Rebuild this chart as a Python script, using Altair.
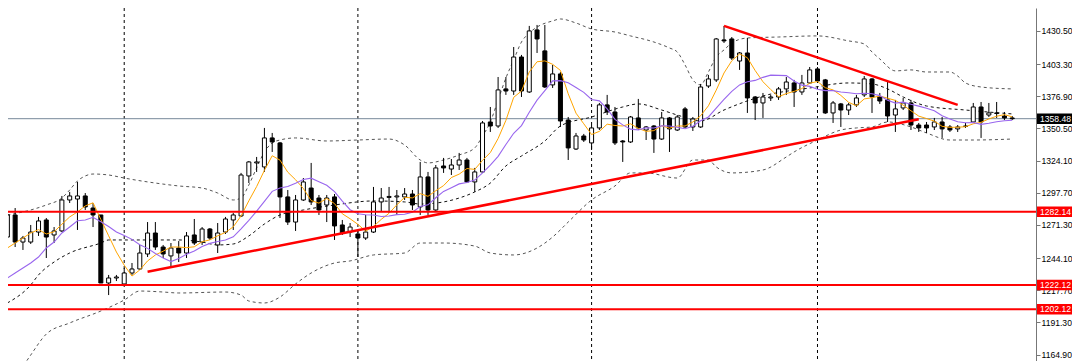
import altair as alt
import pandas as pd

# ---------------- data ----------------
idx = list(range(130))

opens = [
1261.4, 1279.5, 1257.3, 1257.3, 1265.5, 1275.4, 1263.1, 1266.4, 1291.8, 1292.6,
1295.1, 1285.2, 1279.5, 1223.7, 1227.8, 1222.9, 1231.9, 1235.2, 1247.5, 1264.7,
1253.2, 1245.9, 1252.4, 1248.3, 1263.1, 1257.3, 1268.0, 1254.9, 1265.5, 1275.4,
1278.7, 1311.5, 1322.2, 1318.9, 1342.7, 1338.6, 1294.3, 1273.7, 1291.8, 1301.6,
1293.4, 1287.7, 1294.3, 1271.3, 1265.5, 1263.9, 1260.6, 1265.5, 1290.2, 1293.9,
1294.3, 1294.3, 1296.7, 1286.1, 1310.7, 1283.6, 1319.7, 1317.2, 1320.5, 1324.6,
1306.6, 1314.8, 1355.8, 1352.5, 1382.9, 1381.2, 1409.1, 1380.4, 1431.3, 1414.1,
1386.2, 1395.2, 1357.4, 1333.6, 1344.3, 1338.6, 1350.9, 1369.8, 1364.0, 1340.2,
1339.4, 1359.1, 1349.2, 1352.5, 1341.8, 1359.1, 1349.2, 1366.5, 1351.7, 1351.7,
1385.3, 1390.3, 1423.1, 1423.9, 1405.8, 1412.4, 1376.3, 1371.4, 1375.5, 1376.3,
1382.9, 1387.8, 1380.4, 1387.8, 1399.3, 1390.3, 1363.2, 1370.6, 1365.6, 1369.8,
1378.0, 1391.1, 1376.3, 1373.9, 1361.5, 1367.3, 1371.4, 1353.3, 1353.3, 1351.7,
1355.8, 1351.7, 1350.1, 1352.1, 1355.8, 1368.1, 1361.5, 1363.2, 1360.7, 1359.1]

highs = [
1283.6, 1285.2, 1262.3, 1271.3, 1277.9, 1277.0, 1269.6, 1295.1, 1298.4, 1306.6,
1297.5, 1289.3, 1279.5, 1230.3, 1230.3, 1236.0, 1240.1, 1254.9, 1273.7, 1273.7,
1254.9, 1256.5, 1258.1, 1265.5, 1276.2, 1269.6, 1268.8, 1272.9, 1277.9, 1281.1,
1314.0, 1323.8, 1327.1, 1350.9, 1346.8, 1339.4, 1300.0, 1295.9, 1309.8, 1322.2,
1295.9, 1295.9, 1296.7, 1275.4, 1272.9, 1267.2, 1279.5, 1302.5, 1301.6, 1302.5,
1300.0, 1301.6, 1300.0, 1323.0, 1314.8, 1320.5, 1326.3, 1325.4, 1330.4, 1326.3,
1318.1, 1356.6, 1368.1, 1392.7, 1392.7, 1417.3, 1410.8, 1434.6, 1435.4, 1435.4,
1402.6, 1396.8, 1359.9, 1346.8, 1346.0, 1353.3, 1371.4, 1378.0, 1368.1, 1341.0,
1360.7, 1374.7, 1352.5, 1353.3, 1364.0, 1359.9, 1361.5, 1368.1, 1359.9, 1387.0,
1394.4, 1424.7, 1434.6, 1425.5, 1413.2, 1424.7, 1377.1, 1379.6, 1378.0, 1384.5,
1392.7, 1390.3, 1394.4, 1400.9, 1400.9, 1391.1, 1373.0, 1371.4, 1371.4, 1378.0,
1393.5, 1391.9, 1379.6, 1388.6, 1373.9, 1375.5, 1373.9, 1355.0, 1355.8, 1359.1,
1359.9, 1353.3, 1353.3, 1355.0, 1371.4, 1372.2, 1371.4, 1372.2, 1364.0, 1360.7]

lows = [
1248.3, 1253.2, 1250.8, 1255.7, 1262.3, 1244.2, 1256.5, 1265.5, 1289.3, 1267.2,
1283.6, 1269.6, 1223.7, 1213.8, 1225.3, 1222.9, 1230.3, 1234.4, 1245.0, 1250.8,
1244.2, 1236.8, 1240.9, 1244.2, 1254.9, 1254.9, 1259.0, 1248.3, 1263.9, 1267.2,
1277.9, 1305.7, 1314.8, 1314.8, 1331.2, 1277.0, 1271.3, 1266.4, 1291.0, 1287.7,
1279.5, 1273.7, 1259.0, 1263.1, 1261.4, 1245.0, 1259.0, 1264.7, 1281.9, 1281.1,
1279.5, 1291.8, 1283.6, 1279.5, 1279.5, 1281.9, 1314.0, 1312.3, 1316.4, 1305.7,
1298.4, 1314.0, 1347.6, 1350.9, 1378.0, 1378.0, 1376.3, 1379.6, 1412.4, 1383.7,
1383.7, 1351.7, 1324.6, 1332.8, 1339.4, 1332.8, 1349.2, 1361.5, 1336.9, 1323.0,
1338.6, 1349.2, 1341.0, 1330.4, 1341.0, 1331.2, 1348.4, 1350.9, 1348.4, 1350.9,
1383.7, 1388.6, 1420.6, 1406.7, 1398.5, 1363.2, 1357.4, 1359.1, 1373.0, 1373.9,
1378.0, 1368.1, 1378.0, 1387.0, 1387.8, 1362.4, 1355.0, 1351.7, 1361.5, 1368.1,
1376.3, 1363.2, 1370.6, 1355.8, 1347.6, 1365.6, 1349.2, 1347.6, 1346.8, 1349.2,
1342.7, 1347.6, 1347.6, 1350.9, 1355.0, 1342.7, 1359.9, 1359.1, 1357.4, 1357.4]

closes = [
1279.5, 1257.3, 1260.6, 1265.5, 1274.6, 1261.4, 1266.4, 1291.8, 1295.1, 1295.1,
1286.1, 1279.5, 1223.7, 1227.8, 1228.6, 1231.9, 1235.2, 1248.3, 1264.7, 1253.2,
1247.5, 1252.4, 1248.3, 1262.3, 1256.5, 1268.0, 1260.6, 1264.7, 1276.2, 1279.5,
1312.3, 1323.0, 1323.0, 1342.7, 1339.4, 1294.3, 1273.7, 1291.8, 1306.6, 1290.2,
1283.6, 1293.4, 1270.5, 1264.7, 1269.6, 1260.6, 1265.5, 1290.2, 1293.4, 1294.7,
1295.1, 1296.7, 1287.7, 1310.7, 1283.6, 1318.1, 1318.1, 1320.5, 1324.6, 1306.6,
1314.8, 1355.0, 1352.5, 1382.1, 1381.2, 1409.1, 1381.2, 1430.5, 1423.9, 1384.5,
1395.2, 1356.6, 1334.5, 1344.3, 1341.0, 1350.9, 1369.8, 1364.0, 1338.6, 1339.4,
1359.9, 1350.9, 1351.7, 1341.8, 1359.1, 1350.1, 1359.9, 1351.7, 1358.3, 1384.5,
1391.1, 1423.9, 1422.3, 1408.3, 1412.4, 1375.5, 1371.4, 1376.3, 1376.3, 1382.9,
1388.6, 1380.4, 1387.8, 1398.5, 1389.4, 1363.2, 1371.4, 1365.6, 1369.8, 1375.5,
1391.1, 1376.3, 1373.0, 1360.7, 1366.5, 1371.4, 1353.3, 1350.9, 1350.9, 1355.8,
1350.1, 1349.2, 1351.7, 1352.5, 1368.1, 1355.8, 1363.2, 1362.8, 1359.1, 1358.48]

# fast moving average (orange), read per candle
ma_fast = [
1252.4, 1256.5, 1260.6, 1264.7, 1267.5, 1263.9, 1265.7, 1271.9, 1277.9, 1282.0,
1286.9, 1289.5, 1275.9, 1262.4, 1249.1, 1238.3, 1229.4, 1234.4, 1241.8, 1246.7,
1249.8, 1253.2, 1253.2, 1252.7, 1253.4, 1257.5, 1259.1, 1262.4, 1265.2, 1269.8,
1278.7, 1291.1, 1302.8, 1316.1, 1328.1, 1324.5, 1314.6, 1308.4, 1301.2, 1291.3,
1289.2, 1293.1, 1288.8, 1280.5, 1276.4, 1271.8, 1266.2, 1270.1, 1275.9, 1280.9,
1287.8, 1294.0, 1293.5, 1297.0, 1294.8, 1299.4, 1303.6, 1310.2, 1313.0, 1317.6,
1316.9, 1324.3, 1330.7, 1342.2, 1357.1, 1376.0, 1381.2, 1396.8, 1405.2, 1405.9,
1403.1, 1398.1, 1378.9, 1363.0, 1354.3, 1345.5, 1348.1, 1354.0, 1352.9, 1352.5,
1354.3, 1350.5, 1348.1, 1348.7, 1352.7, 1350.7, 1352.5, 1352.5, 1355.8, 1360.9,
1369.1, 1381.9, 1396.0, 1406.0, 1411.6, 1408.5, 1398.0, 1388.8, 1382.4, 1376.5,
1379.1, 1380.9, 1383.2, 1387.6, 1389.0, 1383.9, 1382.1, 1377.6, 1371.9, 1369.1,
1374.7, 1375.7, 1377.1, 1375.3, 1373.5, 1369.6, 1365.0, 1360.6, 1358.6, 1356.5,
1352.2, 1351.4, 1351.5, 1351.9, 1354.3, 1355.5, 1358.3, 1360.5, 1361.8, 1360.0]

# slower moving average (purple), read per candle
ma_slow = [
1227.8, 1231.9, 1236.0, 1240.1, 1245.0, 1252.4, 1257.3, 1264.7, 1269.6, 1274.7,
1275.4, 1277.6, 1273.9, 1270.1, 1265.5, 1262.6, 1259.5, 1255.1, 1252.1, 1247.9,
1244.1, 1241.3, 1243.8, 1247.2, 1250.0, 1253.6, 1256.2, 1257.8, 1259.0, 1261.6,
1268.1, 1275.1, 1282.6, 1290.7, 1298.9, 1301.6, 1302.9, 1305.6, 1308.6, 1309.7,
1306.8, 1303.9, 1298.6, 1290.8, 1283.8, 1280.5, 1279.7, 1279.5, 1278.2, 1278.6,
1279.8, 1280.1, 1281.8, 1286.4, 1287.8, 1293.6, 1298.8, 1301.9, 1305.0, 1306.2,
1308.1, 1314.0, 1320.4, 1327.6, 1337.3, 1346.5, 1352.8, 1363.8, 1373.7, 1381.5,
1389.5, 1389.7, 1387.9, 1384.1, 1380.1, 1374.3, 1373.1, 1366.5, 1357.9, 1353.4,
1349.9, 1349.3, 1351.0, 1350.8, 1352.6, 1352.5, 1351.5, 1350.3, 1352.3, 1356.8,
1359.9, 1367.2, 1374.3, 1380.9, 1386.2, 1388.8, 1389.9, 1392.4, 1394.2, 1394.0,
1393.8, 1389.4, 1386.0, 1385.0, 1382.7, 1381.5, 1381.5, 1380.4, 1379.8, 1379.0,
1379.3, 1378.9, 1377.4, 1373.6, 1371.3, 1372.1, 1370.3, 1368.8, 1367.0, 1365.0,
1360.9, 1358.2, 1356.0, 1355.2, 1355.4, 1353.8, 1354.8, 1356.0, 1356.8, 1357.2]

# Bollinger-type dashed bands, read at sample candles
bb_up_idx = [0, 3, 5, 7, 8, 9, 10, 11, 13, 15, 19, 22, 25, 27, 29, 30, 31, 32, 33, 34,
             35, 37, 41, 45, 49, 51, 53, 54, 56, 58, 60, 61, 62, 63, 64, 65, 66, 67, 68, 70,
             71, 73, 75, 78, 80, 83, 85, 86, 87, 88, 89, 90, 91, 92, 93, 95, 99, 104, 108, 110,
             111, 112, 114, 116, 118, 121, 122, 123, 125, 129]
bb_up = [1279.5, 1283.6, 1287.7, 1293.4, 1300.0, 1307.4, 1311.5, 1313.1, 1312.3, 1309.8,
         1305.7, 1303.3, 1301.6, 1297.5, 1291.8, 1293.4, 1304.1, 1318.1, 1331.2, 1338.6,
         1341.0, 1342.7, 1340.2, 1341.0, 1341.8, 1336.9, 1324.6, 1322.2, 1324.6, 1328.7,
         1334.5, 1344.3, 1355.8, 1373.9, 1391.9, 1406.7, 1421.4, 1428.8, 1433.7, 1438.7,
         1440.3, 1437.0, 1432.1, 1429.6, 1426.4, 1421.4, 1416.5, 1413.2, 1402.6, 1390.3,
         1386.2, 1396.8, 1409.1, 1414.9, 1420.6, 1424.7, 1425.5, 1426.4, 1422.3, 1419.8,
         1413.2, 1407.5, 1397.7, 1398.5, 1396.8, 1396.8, 1393.5, 1387.8, 1384.5, 1382.9]

bb_mid_idx = [0, 3, 4, 6, 8, 12, 13, 18, 22, 25, 27, 29, 31, 33, 35, 38, 42, 47, 51, 53,
              56, 58, 60, 62, 64, 66, 69, 71, 75, 79, 81, 84, 86, 89, 92, 97, 103, 108, 111, 113,
              115, 118, 123, 129]
bb_mid = [1207.3, 1222.1, 1230.3, 1240.9, 1248.3, 1256.5, 1259.0, 1259.0, 1259.0, 1257.3,
          1254.9, 1255.7, 1262.3, 1272.1, 1279.5, 1283.6, 1287.7, 1291.0, 1290.2, 1288.5,
          1290.2, 1293.4, 1298.4, 1305.7, 1319.7, 1327.9, 1340.2, 1352.5, 1359.9, 1368.1,
          1370.6, 1365.6, 1361.5, 1356.6, 1365.6, 1377.1, 1383.7, 1387.8, 1387.0, 1382.9,
          1376.3, 1368.9, 1365.6, 1362.4]

bb_lo_idx = [0, 3, 5, 8, 12, 15, 17, 20, 22, 28, 30, 31, 33, 35, 37, 39, 42, 44, 47, 51,
             53, 56, 60, 62, 65, 68, 70, 72, 75, 78, 80, 82, 86, 88, 90, 91, 93, 97, 100, 101,
             104, 107, 109, 111, 113, 116, 118, 121, 124, 129]
bb_lo = [1135.1, 1164.6, 1181.8, 1190.9, 1200.7, 1209.7, 1217.1, 1216.3, 1215.5, 1216.3,
         1213.8, 1208.9, 1207.3, 1212.2, 1222.9, 1231.9, 1240.1, 1241.8, 1246.7, 1248.3,
         1256.5, 1256.5, 1254.0, 1248.3, 1246.7, 1252.4, 1261.4, 1273.7, 1291.8, 1303.3,
         1314.0, 1314.0, 1309.8, 1324.6, 1324.6, 1318.9, 1314.0, 1316.4, 1327.1, 1331.2,
         1341.0, 1349.2, 1350.9, 1351.7, 1355.8, 1351.7, 1346.8, 1341.0, 1341.0, 1341.8]

grid_idx = [15, 45, 75, 104]

levels = [1282.14, 1222.12, 1202.12]
level_labels = ["1282.14", "1222.12", "1202.12"]
last_price = [1358.48]
last_label = ["1358.48"]

trend_name = ["support", "support", "resistance", "resistance"]
trend_idx = [18, 117, 92, 122]
trend_price = [1232.9, 1358.0, 1434.6, 1369.8]

y_ticks = [1430.50, 1403.30, 1376.90, 1350.50, 1324.10, 1297.70,
           1271.30, 1244.10, 1217.70, 1191.30, 1164.90]

# ---------------- tables ----------------
candles = pd.DataFrame({"i": idx, "o": opens, "h": highs, "l": lows, "c": closes})
mas = pd.DataFrame({"i": idx, "fast": ma_fast, "slow": ma_slow})
bands = pd.concat([
    pd.DataFrame({"i": bb_up_idx, "p": bb_up, "band": "upper"}),
    pd.DataFrame({"i": bb_mid_idx, "p": bb_mid, "band": "middle"}),
    pd.DataFrame({"i": bb_lo_idx, "p": bb_lo, "band": "lower"}),
])
grid = pd.DataFrame({"i": grid_idx})
lev = pd.DataFrame({"p": levels, "t": level_labels})
last = pd.DataFrame({"p": last_price, "t": last_label})
trends = pd.DataFrame({"name": trend_name, "i": trend_idx, "p": trend_price})

W, H, RIGHT = 1028, 353, 36
xs = alt.Scale(domain=[0.724, 131.41], nice=False, zero=False)
ys = alt.Scale(domain=[1159.7, 1449.3], nice=False, zero=False)
X = alt.X("i:Q", scale=xs, axis=None)

y_axis = alt.Axis(orient="right", values=y_ticks, format=".2f", grid=False, title=None,
                  domainColor="#777777", tickColor="#777777", tickSize=4,
                  labelPadding=1, labelFont="Liberation Sans", labelFontSize=8.6,
                  labelColor="black", labelOverlap=False, labelFlush=False)

def Y(field):
    return alt.Y(field, scale=ys, axis=y_axis, title=None)

vgrid = alt.Chart(grid).mark_rule(color="black", strokeWidth=1, strokeDash=[3, 3]).encode(x=X)

last_line = alt.Chart(last).mark_rule(color="#778899", strokeWidth=1).encode(y=Y("p:Q"))

band_lines = alt.Chart(bands).mark_line(strokeWidth=1, strokeDash=[3, 3], clip=True,
                                        interpolate="monotone").encode(
    x=X, y=Y("p:Q"), detail="band:N",
    color=alt.Color("band:N", scale=alt.Scale(domain=["upper", "middle", "lower"],
                                              range=["#555555", "#111111", "#555555"]),
                    legend=None))

wicks = alt.Chart(candles).mark_rule(color="black", strokeWidth=1, clip=True).encode(
    x=X, y=Y("l:Q"), y2="h:Q")

bodies = alt.Chart(candles).mark_bar(width=4, stroke="black", strokeWidth=1, clip=True).encode(
    x=X, y=Y("o:Q"), y2="c:Q",
    fill=alt.condition("datum.c >= datum.o", alt.value("white"), alt.value("black")))

fast_line = alt.Chart(mas).mark_line(color="#FFA500", strokeWidth=1, clip=True).encode(
    x=X, y=Y("fast:Q"))
slow_line = alt.Chart(mas).mark_line(color="#9966EE", strokeWidth=1.1, clip=True).encode(
    x=X, y=Y("slow:Q"))

level_lines = alt.Chart(lev).mark_rule(color="#FF0000", strokeWidth=2).encode(y=Y("p:Q"))

trend_lines = alt.Chart(trends).mark_line(color="#FF0000", strokeWidth=2.5).encode(
    x=X, y=Y("p:Q"), detail="name:N")

lev_box = alt.Chart(lev).transform_calculate(
    a="datum.p - 4.3", b="datum.p + 4.3").mark_rect(color="#FF0000").encode(
    x=alt.value(W + 1), x2=alt.value(W + RIGHT), y=Y("a:Q"), y2="b:Q")
lev_txt = alt.Chart(lev).mark_text(align="left", baseline="middle", color="white",
                                   font="Liberation Sans", fontSize=8.6).encode(
    x=alt.value(W + 4), y=Y("p:Q"), text="t:N")

last_box = alt.Chart(last).transform_calculate(
    a="datum.p - 4.3", b="datum.p + 4.3").mark_rect(color="black").encode(
    x=alt.value(W + 1), x2=alt.value(W + RIGHT), y=Y("a:Q"), y2="b:Q")
last_txt = alt.Chart(last).mark_text(align="left", baseline="middle", color="white",
                                     font="Liberation Sans", fontSize=8.6).encode(
    x=alt.value(W + 4), y=Y("p:Q"), text="t:N")

chart = alt.layer(
    vgrid, last_line, band_lines, wicks, bodies, fast_line, slow_line,
    level_lines, trend_lines, lev_box, lev_txt, last_box, last_txt
).properties(
    width=W, height=H, background="white",
    padding={"left": 0, "top": 0, "right": RIGHT, "bottom": 0},
    autosize=alt.AutoSizeParams(type="none"),
).configure_view(stroke=None)

chart.save("out.html", embed_options={"renderer": "svg", "actions": False})
